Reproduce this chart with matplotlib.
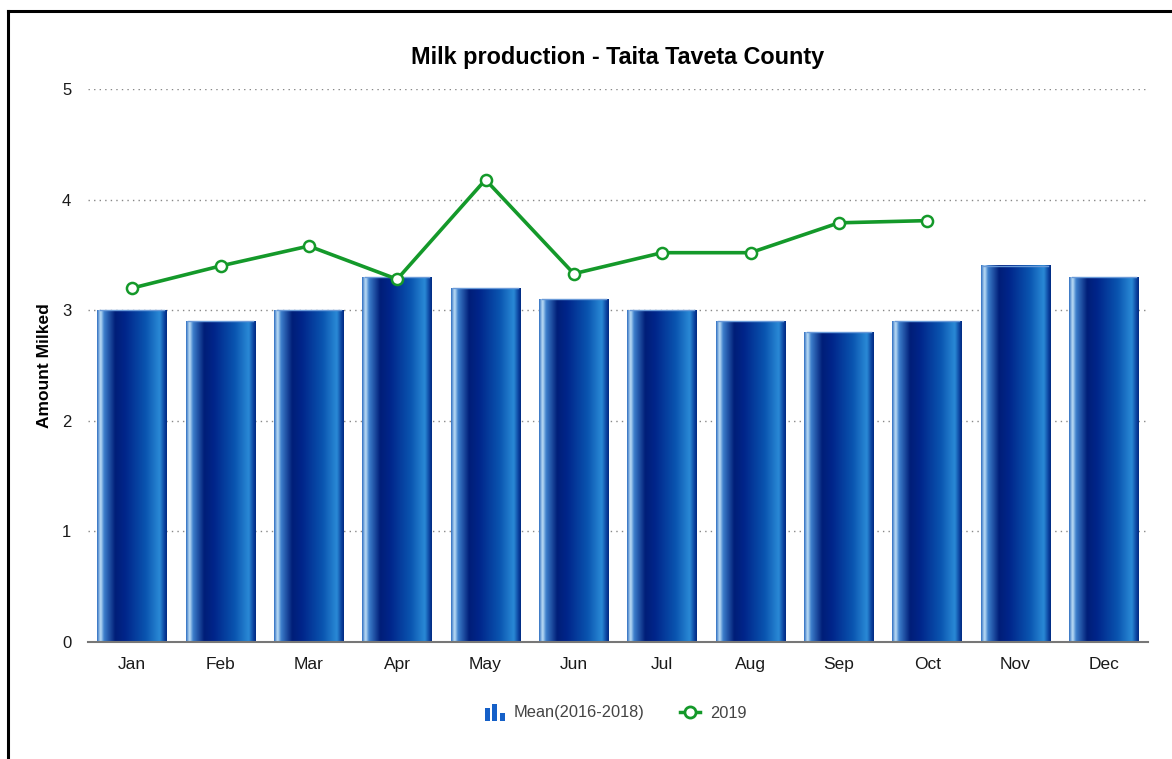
import numpy as np
import matplotlib.pyplot as plt
from matplotlib.colors import LinearSegmentedColormap
from matplotlib.legend_handler import HandlerBase
from matplotlib.patches import Rectangle
from matplotlib.lines import Line2D

months = ['Jan', 'Feb', 'Mar', 'Apr', 'May', 'Jun', 'Jul', 'Aug', 'Sep', 'Oct', 'Nov', 'Dec']
mean_2016_2018 = [3.0, 2.9, 3.0, 3.3, 3.2, 3.1, 3.0, 2.9, 2.8, 2.9, 3.4, 3.3]
months_2019 = months[:10]
values_2019 = [3.2, 3.4, 3.58, 3.28, 4.18, 3.33, 3.52, 3.52, 3.79, 3.81]

plt.rcParams['font.family'] = ['Liberation Sans', 'DejaVu Sans']

# horizontal "cylinder" shading for the bars
bar_cmap = LinearSegmentedColormap.from_list('cyl', [
    (0.00, '#2b6cc0'), (0.05, '#c2e2f8'), (0.10, '#3d7fcc'),
    (0.26, '#001e78'), (0.40, '#00258a'), (0.70, '#0a55b0'),
    (0.90, '#2a8ad6'), (0.97, '#0a3f9c'), (1.00, '#002a80')])
grad = np.linspace(0, 1, 256).reshape(1, -1)

green = '#14992a'

fig = plt.figure(figsize=(11.72, 7.59), dpi=100)
ax = fig.add_axes([88/1172, 117/759, 1060/1172, 553/759])

x = np.arange(len(months))
w = 0.79
for xi, v in zip(x, mean_2016_2018):
    ax.imshow(grad, cmap=bar_cmap, extent=[xi - w/2, xi + w/2, 0, v],
              aspect='auto', zorder=2, interpolation='bicubic')
    ax.plot([xi - w/2 + 0.03, xi + w/2 - 0.03], [v, v], color='#6a9ad8', lw=1, zorder=3)

ax.plot(np.arange(len(months_2019)), values_2019, color=green, lw=2.6, zorder=4,
        marker='o', markersize=8, markerfacecolor='white', markeredgecolor=green,
        markeredgewidth=1.8)

ax.set_xlim(-0.5, len(months) - 0.5)
ax.set_ylim(0, 5)
ax.set_xticks(x)
ax.set_xticklabels(months, fontsize=12.5, color='#1a1a1a')
ax.set_yticks(range(6))
ax.tick_params(axis='y', length=0, pad=12, labelsize=12, labelcolor='#1a1a1a')
ax.tick_params(axis='x', length=0, pad=11)
for s in ['top', 'right', 'left']:
    ax.spines[s].set_visible(False)
ax.spines['bottom'].set_color('#777777')
ax.spines['bottom'].set_linewidth(1.5)
ax.spines['bottom'].set_zorder(5)
ax.yaxis.grid(True, linestyle=(0, (1, 3)), color='#888888', lw=1)
ax.set_axisbelow(True)
ax.set_ylabel('Amount Milked', fontsize=12.5, fontweight='bold', labelpad=7)
ax.set_title('Milk production - Taita Taveta County', fontsize=16.8, fontweight='bold', pad=18)


class BarIconHandler(HandlerBase):
    def create_artists(self, legend, orig_handle, xd, yd, width, height, fontsize, trans):
        arts = []
        for i, hf in enumerate([1.15, 1.5, 0.7]):
            r = Rectangle((xd + 1 + i * 5.2, yd - 0.3 * height), 3.6, hf * height,
                          facecolor='#1560c8', transform=trans)
            arts.append(r)
        return arts


bar_handle = Rectangle((0, 0), 1, 1)
line_handle = Line2D([], [], color=green, lw=2.5, marker='o', markersize=8,
                     markerfacecolor='white', markeredgecolor=green, markeredgewidth=2)
leg = fig.legend([bar_handle, line_handle], ['Mean(2016-2018)', '2019'],
                 handler_map={Rectangle: BarIconHandler()},
                 loc='center', bbox_to_anchor=(615/1172, 1 - 713/759), ncol=2,
                 frameon=False, fontsize=11.8, handlelength=1.2, columnspacing=2.2,
                 handletextpad=0.6)
for t in leg.get_texts():
    t.set_color('#444444')

# frame lines on top and left of the image
fig.add_artist(Line2D([8/1172, 1], [1 - 11/759, 1 - 11/759], color='black', lw=2.2))
fig.add_artist(Line2D([8/1172, 8/1172], [0, 1 - 11/759], color='black', lw=2.2))

fig.savefig('out.png', dpi=100)
